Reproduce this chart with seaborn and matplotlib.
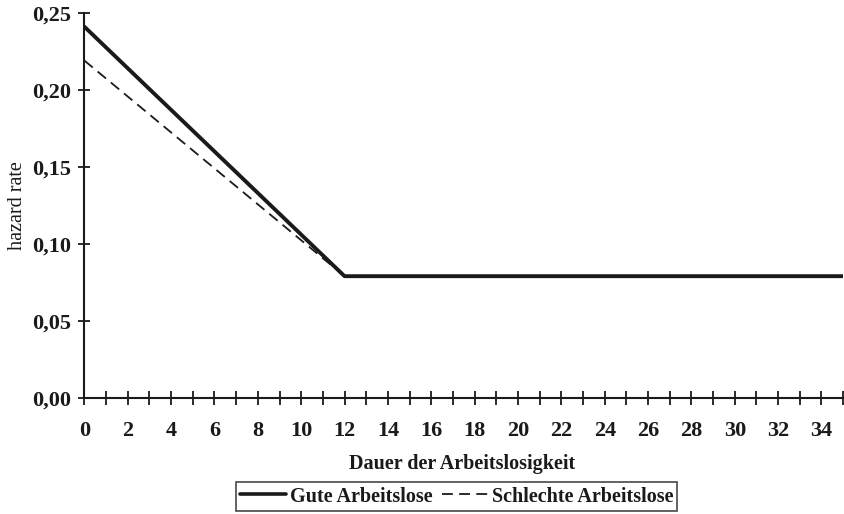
import matplotlib
matplotlib.use("Agg")
import matplotlib.pyplot as plt
import seaborn as sns
import pandas as pd
from matplotlib.lines import Line2D

months = [0, 12, 35]
gute = [0.241, 0.079, 0.079]
schlechte = [0.219, 0.079, 0.079]
series_names = ["Gute Arbeitslose", "Schlechte Arbeitslose"]
y_ticks = [0.00, 0.05, 0.10, 0.15, 0.20, 0.25]
y_tick_labels = ["0,00", "0,05", "0,10", "0,15", "0,20", "0,25"]

df = pd.DataFrame({
    "Monat": months * 2,
    "hazard": gute + schlechte,
    "Gruppe": [series_names[0]] * len(months) + [series_names[1]] * len(months),
})

sns.set_style("white")
plt.rcParams["font.family"] = ["Liberation Serif", "DejaVu Serif"]

INK = "#1a1a1a"
DASH = (6, 3.5)

fig = plt.figure(figsize=(8.44, 5.14), dpi=100)
ax = fig.add_axes([0.1, 0.226, 0.899, 0.749])

sns.lineplot(data=df, x="Monat", y="hazard", hue="Gruppe", style="Gruppe",
             palette={series_names[0]: INK, series_names[1]: INK},
             dashes={series_names[0]: "", series_names[1]: DASH},
             size="Gruppe", sizes={series_names[0]: 2.8, series_names[1]: 1.3},
             ax=ax, legend=False)

ax.set_xlim(0, 35)
ax.set_ylim(0, 0.25)
ax.set_xticks(range(0, 36))
ax.set_xticklabels([str(i) if i % 2 == 0 else "" for i in range(0, 36)])
ax.set_yticks(y_ticks)
ax.set_yticklabels(y_tick_labels)

for s in ["top", "right"]:
    ax.spines[s].set_visible(False)
for s in ["left", "bottom"]:
    ax.spines[s].set_color(INK)
    ax.spines[s].set_linewidth(1.5)

ax.tick_params(axis="x", bottom=True, direction="inout", length=10, width=1.3,
               colors=INK, labelsize=16, pad=12)
ax.tick_params(axis="y", left=True, direction="inout", length=9, width=1.3,
               colors=INK, labelsize=16, pad=5)
for lab in ax.get_xticklabels() + ax.get_yticklabels():
    lab.set_fontweight("bold")
    lab.set_color(INK)

ax.set_xlabel("Dauer der Arbeitslosigkeit", fontsize=14.5, fontweight="bold",
              color=INK, va="center")
ax.xaxis.set_label_coords(0.498, -0.172)
ax.set_ylabel("hazard rate", fontsize=14.5, color=INK, labelpad=4)

handles = [Line2D([], [], color=INK, lw=2.6),
           Line2D([], [], color=INK, lw=1.3, dashes=DASH)]
leg = fig.legend(handles, series_names, loc="center", bbox_to_anchor=(0.541, 0.034),
                 ncol=2, frameon=True, fancybox=False, fontsize=14.5,
                 handlelength=2.3, handletextpad=0.15, columnspacing=0.5,
                 borderpad=0.2, borderaxespad=0)
leg.get_frame().set_edgecolor(INK)
leg.get_frame().set_linewidth(1.2)
for t in leg.get_texts():
    t.set_fontweight("bold")
    t.set_color(INK)

fig.savefig("out.png", dpi=100)
